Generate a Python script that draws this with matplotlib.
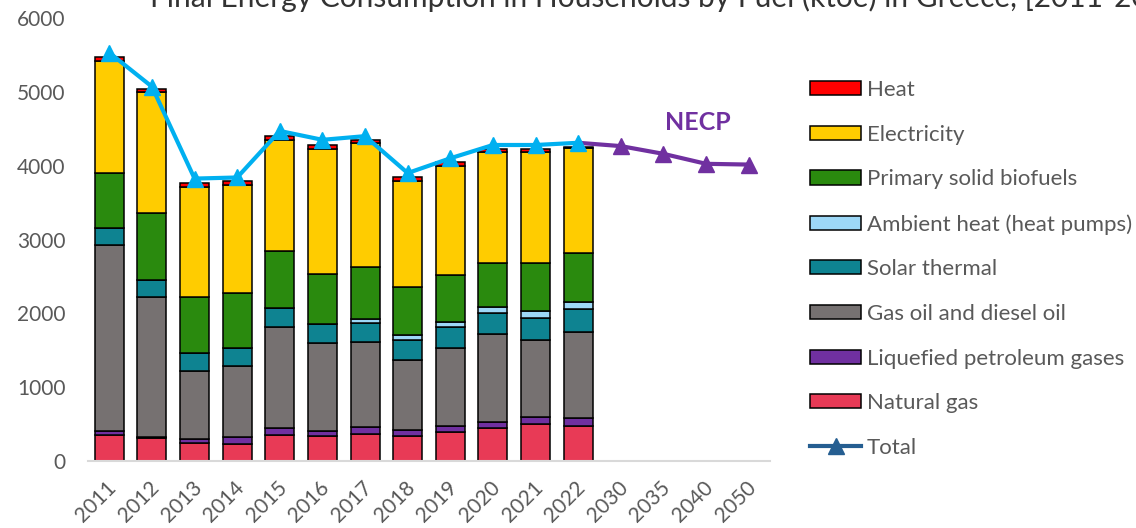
import matplotlib
matplotlib.use("Agg")
import matplotlib.pyplot as plt
import matplotlib.transforms as mtransforms
import numpy as np
from matplotlib.patches import Patch
from matplotlib.lines import Line2D

plt.rcParams['font.family'] = ['Lato', 'DejaVu Sans']

# data (ktoe)
years = ['2011', '2012', '2013', '2014', '2015', '2016', '2017', '2018',
         '2019', '2020', '2021', '2022', '2030', '2035', '2040', '2050']
natural_gas = [350, 310, 240, 230, 352, 339, 366, 339, 389, 451, 501, 474]
lpg = [50, 20, 58, 90, 90, 72, 90, 81, 85, 82, 100, 113]
gas_oil = [2527, 1892, 922, 966, 1377, 1184, 1152, 949, 1061, 1188, 1039, 1165]
solar = [234, 235, 239, 240, 249, 257, 266, 271, 276, 289, 294, 304]
ambient = [0, 0, 0, 0, 0, 0, 50, 67, 77, 81, 99, 98]
biofuels = [746, 908, 768, 745, 781, 678, 701, 655, 632, 596, 645, 669]
electricity = [1517, 1626, 1490, 1468, 1500, 1702, 1680, 1432, 1477, 1495, 1504, 1414]
heat = [50, 50, 55, 55, 55, 50, 45, 50, 50, 42, 42, 22]
total = [5530, 5070, 3825, 3840, 4470, 4350, 4400, 3900, 4100, 4280, 4280, 4310]
necp = [4265, 4160, 4025, 4015]

series = [
    ('Natural gas', natural_gas, '#E83A56'),
    ('Liquefied petroleum gases', lpg, '#7030A0'),
    ('Gas oil and diesel oil', gas_oil, '#767171'),
    ('Solar thermal', solar, '#0E8391'),
    ('Ambient heat (heat pumps)', ambient, '#9DD8F7'),
    ('Primary solid biofuels', biofuels, '#2A8A0E'),
    ('Electricity', electricity, '#FFCC00'),
    ('Heat', heat, '#FF0000'),
]

grey = '#595959'

fig = plt.figure(figsize=(11.36, 5.28), dpi=100)
ax = fig.add_axes([88 / 1136, 67 / 528, 682 / 1136, 443 / 528])

x = np.arange(len(total))
bottom = np.zeros(len(total))
for name, vals, col in series:
    ax.bar(x, vals, 0.68, bottom=bottom, color=col, edgecolor='black',
           linewidth=1.1, zorder=2)
    bottom += np.array(vals)

ax.plot(x, total, color='#00B0F0', lw=3, marker='^', markersize=12, zorder=4)

# NECP projection continues from the last observed total
xn = np.arange(len(total) - 1, len(years))
yn = [total[-1]] + necp
ax.plot(xn, yn, color='#7030A0', lw=3, zorder=3)
ax.plot(xn[1:], yn[1:], color='#7030A0', lw=0, marker='^', markersize=12, zorder=3)
ax.text(13.8, 4590, 'NECP', color='#7030A0', fontsize=18, fontweight='bold',
        ha='center', va='center')

ax.set_xlim(-0.5, len(years) - 0.5)
ax.set_ylim(0, 6000)
ax.set_yticks(np.arange(0, 6001, 1000))
ax.set_xticks(np.arange(len(years)))
ax.set_xticklabels(years, rotation=45, ha='right', va='center',
                   rotation_mode='anchor')
ax.tick_params(axis='both', length=0, colors=grey, labelsize=15)
ax.tick_params(axis='y', pad=16)
ax.tick_params(axis='x', pad=17)
shift = mtransforms.ScaledTranslation(4 / 100, 0, fig.dpi_scale_trans)
for lab in ax.get_xticklabels():
    lab.set_transform(lab.get_transform() + shift)
for s in ['top', 'right', 'left']:
    ax.spines[s].set_visible(False)
ax.spines['bottom'].set_color('#D9D9D9')
ax.spines['bottom'].set_linewidth(1.5)

handles = [Patch(facecolor=col, edgecolor='black', linewidth=1.1, label=name)
           for name, vals, col in series[::-1]]
handles.append(Line2D([], [], color='#255E91', lw=3, marker='^',
                      markersize=12, label='Total'))
fig.legend(handles=handles, loc='upper left',
           bbox_to_anchor=(810 / 1136, 1 - 80 / 528), frameon=False,
           fontsize=16, labelcolor=grey, handlelength=2.3, handleheight=0.6,
           handletextpad=0.27, labelspacing=1.11, borderpad=0, borderaxespad=0)

fig.text(150 / 1136, 1 - 7 / 528,
         'Final Energy Consumption in Households by Fuel (ktoe) in Greece, [2011-2050]',
         fontsize=21.5, color='#333333', ha='left', va='baseline')

fig.savefig('out.png', dpi=100)
